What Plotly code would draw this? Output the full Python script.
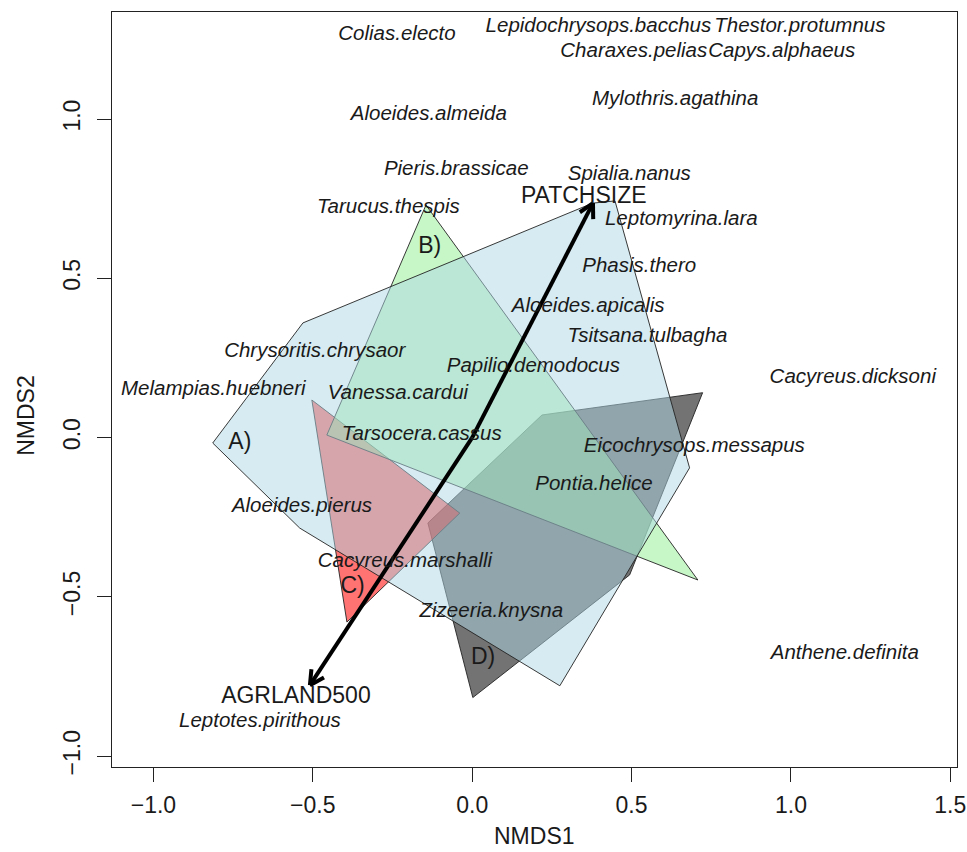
import math
import plotly.graph_objects as go

# ---- species scores (NMDS1, NMDS2) ----
species = [
    "Colias.electo", "Lepidochrysops.bacchus", "Thestor.protumnus",
    "Charaxes.pelias", "Capys.alphaeus", "Aloeides.almeida",
    "Mylothris.agathina", "Pieris.brassicae", "Spialia.nanus",
    "Tarucus.thespis", "Leptomyrina.lara", "Phasis.thero",
    "Aloeides.apicalis", "Tsitsana.tulbagha", "Papilio.demodocus",
    "Cacyreus.dicksoni", "Chrysoritis.chrysaor", "Melampias.huebneri",
    "Vanessa.cardui", "Tarsocera.cassus", "Eicochrysops.messapus",
    "Pontia.helice", "Aloeides.pierus", "Cacyreus.marshalli",
    "Zizeeria.knysna", "Anthene.definita", "Leptotes.pirithous",
]
sp_nmds1 = [-0.236, 0.396, 1.028, 0.507, 0.971, -0.136, 0.637, -0.050, 0.493,
            -0.263, 0.656, 0.524, 0.364, 0.550, 0.192, 1.194, -0.494, -0.812,
            -0.233, -0.158, 0.697, 0.382, -0.534, -0.211, 0.060, 1.169, -0.666]
sp_nmds2 = [1.264, 1.289, 1.289, 1.210, 1.210, 1.013, 1.059, 0.840, 0.824,
            0.721, 0.683, 0.536, 0.410, 0.315, 0.221, 0.187, 0.269, 0.149,
            0.136, 0.008, -0.030, -0.149, -0.218, -0.390, -0.547, -0.680, -0.893]

# ---- convex hulls of the site groups ----
hull_A_x = [-0.814, -0.531, 0.378, 0.448, 0.682, 0.275, -0.541]
hull_A_y = [-0.017, 0.360, 0.736, 0.743, -0.095, -0.779, -0.284]
hull_B_x = [-0.145, -0.456, 0.708]
hull_B_y = [0.730, 0.008, -0.447]
hull_C_x = [-0.503, -0.039, -0.393]
hull_C_y = [0.118, -0.237, -0.579]
hull_D_x = [-0.139, 0.219, 0.723, 0.494, 0.002]
hull_D_y = [-0.268, 0.071, 0.141, -0.431, -0.816]

group_names = ["A)", "B)", "C)", "D)"]
group_lab_x = [-0.729, -0.133, -0.375, 0.034]
group_lab_y = [-0.017, 0.598, -0.469, -0.692]

# ---- fitted environmental vectors ----
env_names = ["PATCHSIZE", "AGRLAND500"]
env_x = [0.379, -0.509]
env_y = [0.736, -0.777]
env_lab_x = [0.350, -0.553]
env_lab_y = [0.755, -0.814]

# ---- frame ----
W, H = 967, 852
M_L, M_R, M_T, M_B = 112, 10, 12, 85
X_RANGE = [-1.130, 1.521]
Y_RANGE = [-1.034, 1.336]
x_ticks = [-1.0, -0.5, 0.0, 0.5, 1.0, 1.5]
y_ticks = [-1.0, -0.5, 0.0, 0.5, 1.0]

FONT = "Liberation Sans, Arial, Helvetica, sans-serif"
INK = "#1a1a1a"

fig = go.Figure()


def hull_trace(xs, ys, fill):
    return go.Scatter(
        x=xs + xs[:1], y=ys + ys[:1], mode="lines", fill="toself",
        fillcolor=fill, line=dict(color="rgba(35,35,35,0.9)", width=1),
        hoverinfo="skip", showlegend=False,
    )


fig.add_trace(hull_trace(hull_D_x, hull_D_y, "rgba(0,0,0,0.55)"))
fig.add_trace(hull_trace(hull_C_x, hull_C_y, "rgba(255,0,0,0.55)"))
fig.add_trace(hull_trace(hull_B_x, hull_B_y, "rgba(144,238,144,0.5)"))
fig.add_trace(hull_trace(hull_A_x, hull_A_y, "rgba(173,216,230,0.5)"))

# arrows: shaft from the origin plus an open "V" head built in pixel space
px_per_x = (W - M_L - M_R) / (X_RANGE[1] - X_RANGE[0])
px_per_y = (H - M_T - M_B) / (Y_RANGE[1] - Y_RANGE[0])
head_len, head_ang = 16.0, math.radians(28)
arrow_x, arrow_y = [], []
for ex, ey in zip(env_x, env_y):
    arrow_x += [0.0, ex, None]
    arrow_y += [0.0, ey, None]
    ang = math.atan2(ey * px_per_y, ex * px_per_x)
    for s in (1, -1):
        a = ang + math.pi + s * head_ang
        arrow_x += [ex, ex + head_len * math.cos(a) / px_per_x, None]
        arrow_y += [ey, ey + head_len * math.sin(a) / px_per_y, None]
fig.add_trace(go.Scatter(x=arrow_x, y=arrow_y, mode="lines",
                         line=dict(color="black", width=4),
                         hoverinfo="skip", showlegend=False))

# species names
fig.add_trace(go.Scatter(
    x=sp_nmds1, y=sp_nmds2, mode="text", text=species,
    textposition="middle center",
    textfont=dict(family=FONT, size=20.5, color=INK, style="italic"),
    hoverinfo="skip", showlegend=False,
))
# group labels
fig.add_trace(go.Scatter(
    x=group_lab_x, y=group_lab_y, mode="text", text=group_names,
    textposition="middle center",
    textfont=dict(family=FONT, size=23, color=INK),
    hoverinfo="skip", showlegend=False,
))
# vector labels
fig.add_trace(go.Scatter(
    x=env_lab_x, y=env_lab_y, mode="text", text=env_names,
    textposition="middle center",
    textfont=dict(family=FONT, size=23, color=INK),
    hoverinfo="skip", showlegend=False,
))

axis_common = dict(
    showgrid=False, zeroline=False, showline=True, linecolor="#222",
    linewidth=1.2, mirror=True, ticks="outside", ticklen=14, tickwidth=1.2,
    tickcolor="#222", tickfont=dict(family=FONT, size=23, color=INK),
    automargin=False,
)
fig.update_xaxes(range=X_RANGE, tickvals=x_ticks,
                 ticktext=[f"{v:.1f}".replace("-", "\u2212") for v in x_ticks],
                 ticklabelstandoff=3, **axis_common)
fig.update_yaxes(range=Y_RANGE, tickvals=y_ticks,
                 ticktext=[f"{v:.1f}".replace("-", "\u2212") for v in y_ticks],
                 tickangle=-90, ticklabelstandoff=8, **axis_common)

fig.add_annotation(text="NMDS1", xref="paper", yref="paper", x=0.5, y=-0.092,
                   showarrow=False, font=dict(family=FONT, size=23, color=INK),
                   xanchor="center", yanchor="middle")
fig.add_annotation(text="NMDS2", xref="paper", yref="paper", x=-0.101, y=0.466,
                   textangle=-90, showarrow=False,
                   font=dict(family=FONT, size=23, color=INK),
                   xanchor="center", yanchor="middle")

fig.update_layout(
    width=W, height=H, margin=dict(l=M_L, r=M_R, t=M_T, b=M_B),
    plot_bgcolor="white", paper_bgcolor="white", showlegend=False,
)

fig.write_html("out.html")
